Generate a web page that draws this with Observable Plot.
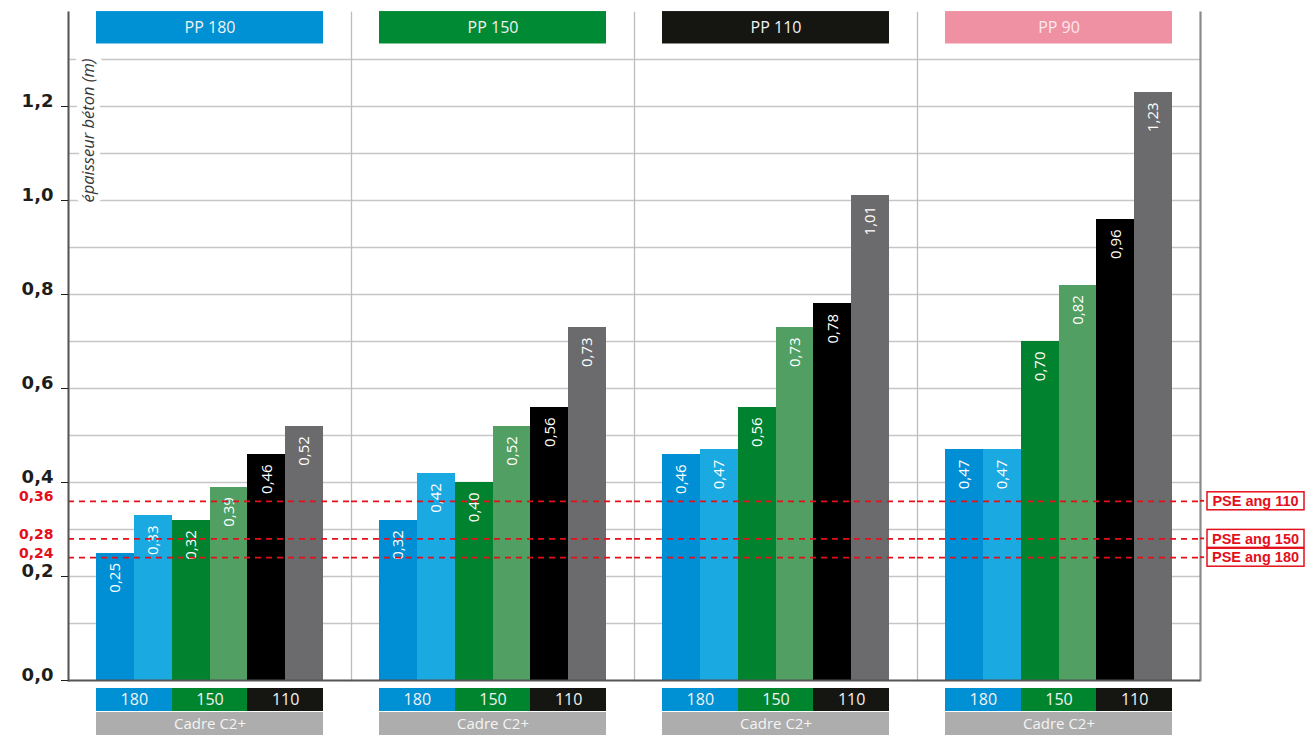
<!DOCTYPE html>
<html><head><meta charset="utf-8">
<script src="https://cdn.jsdelivr.net/npm/d3@7"></script>
<script src="https://cdn.jsdelivr.net/npm/@observablehq/plot@0.6"></script>
<style>html,body{margin:0;padding:0;background:#fff;overflow:hidden}#chart svg{display:block}</style>
</head><body><div id="chart"></div>
<script>
// ---- data ----
const groups = ["PP 180", "PP 150", "PP 110", "PP 90"];
const bars = ["180 a", "180 b", "150 a", "150 b", "110 a", "110 b"];
const pairs = ["180", "150", "110"];
const frameName = "Cadre C2+";
const pp180 = [0.25, 0.33, 0.32, 0.39, 0.46, 0.52];
const pp150 = [0.32, 0.42, 0.40, 0.52, 0.56, 0.73];
const pp110 = [0.46, 0.47, 0.56, 0.73, 0.78, 1.01];
const pp90  = [0.47, 0.47, 0.70, 0.82, 0.96, 1.23];
const yTicks = [0.2, 0.4, 0.6, 0.8, 1.0, 1.2];
const gridValues = [0.1, 0.2, 0.3, 0.4, 0.5, 0.6, 0.7, 0.8, 0.9, 1.0, 1.1, 1.2, 1.3];
const pseValues = [0.36, 0.28, 0.24];
const pseLabels = ["PSE ang 110", "PSE ang 150", "PSE ang 180"];
const yTitle = "épaisseur béton (m)";

// ---- styles ----
const barColors = ["#008fd5", "#1aa9e0", "#00822e", "#519f62", "#000000", "#6b6b6d"];
const headerColors = ["#0090d4", "#008a33", "#151612", "#ef91a3"];
const headerTextColors = ["#f2f2f2", "#f2f2f2", "#f2f2f2", "#fde8ec"];
const pairColors = ["#0090d4", "#00852f", "#151612"];
const red = "#e3101b";

// ---- layout ----
const W = 1307, H = 735, mL = 68, mR = 107, mT = 12, mB = 65;
const yMax = 1.4;
const pxPerUnit = (H - mB - mT) / yMax;
const px = p => -p / pxPerUnit;          // pixel offset below zero, in data units
const facetW = (W - mL - mR) / groups.length;
const padOuter = 0.74;
const step = facetW / (bars.length + 2 * padOuter);
const pad = step * padOuter;
const drop = 10;                          // baseline sits a little below zero

const fmt = (v, d) => v.toFixed(d).replace(".", ",");

const series = [pp180, pp150, pp110, pp90];
const table = groups.flatMap((g, i) => bars.map((b, j) => ({group: g, bar: b, value: series[i][j], fill: barColors[j]})));
const footer = groups.flatMap(g => bars.map((b, j) => ({group: g, bar: b, fill: pairColors[Math.floor(j / 2)]})));
const footerText = groups.flatMap(g => pairs.map((p, k) => ({group: g, bar: bars[2 * k], label: p})));

const axisFont = {label: null, fontSize: 18, fontWeight: "bold", fontFamily: "DejaVu Sans", color: "#1d1d1b", lineAnchor: "bottom"};

const chart = Plot.plot({
  width: W, height: H, marginLeft: mL, marginRight: mR, marginTop: mT, marginBottom: mB,
  style: {fontFamily: "'Open Sans', sans-serif", background: "#fff", overflow: "visible"},
  fx: {domain: groups, padding: 0, round: false, axis: null},
  x: {domain: bars, paddingInner: 0, paddingOuter: padOuter, round: false, axis: null},
  y: {domain: [0, yMax], label: null},
  color: {type: "identity"},
  marks: [
    Plot.ruleY(gridValues, {stroke: "#c6c6c6", strokeWidth: 1.3}),
    Plot.frame({anchor: "left", stroke: "#bdbdbd", strokeWidth: 1.3, insetBottom: -drop}),
    Plot.text([yTitle], {fx: () => groups[0], frameAnchor: "top-left", dx: 14, dy: 46, rotate: -90, textAnchor: "end",
      fontStyle: "italic", fontSize: 16.5, fill: "#383838", stroke: "#fff", strokeWidth: 12}),
    Plot.barY(table, {fx: "group", x: "bar", y: "value", fill: "fill", insetBottom: -drop, shapeRendering: "crispEdges"}),
    Plot.text(table, {fx: "group", x: "bar", y: "value", text: d => fmt(d.value, 2), rotate: -90, textAnchor: "end",
      dy: 10, fill: "#fff", fontSize: 15}),
    Plot.ruleY(pseValues, {stroke: red, strokeWidth: 1.8, strokeDasharray: "6,5"}),
    Plot.rect(groups, {fx: d => d, y1: 1.333, y2: 1.402, insetLeft: pad, insetRight: pad,
      fill: d => headerColors[groups.indexOf(d)]}),
    Plot.text(groups, {fx: d => d, y: 1.3674, text: d => d, fill: d => headerTextColors[groups.indexOf(d)], fontSize: 16}),
    Plot.barY(footer, {fx: "group", x: "bar", y1: px(18), y2: px(41), fill: "fill", shapeRendering: "crispEdges"}),
    Plot.text(footerText, {fx: "group", x: "bar", dx: step / 2, y: px(29.5), text: "label", fill: "#f2f2f2", fontSize: 16}),
    Plot.rect(groups, {fx: d => d, y1: px(42), y2: px(65), insetLeft: pad, insetRight: pad, fill: "#adadad"}),
    Plot.text(groups, {fx: d => d, y: px(53.5), text: () => frameName, fill: "#f4f4f4", fontSize: 15}),
    Plot.frame({anchor: "left", fx: [groups[0]], stroke: "#555", strokeWidth: 2, insetBottom: -drop}),
    Plot.frame({anchor: "right", fx: [groups[groups.length - 1]], stroke: "#8a8a8a", strokeWidth: 2.2, insetBottom: -drop}),
    Plot.ruleY([0], {dy: drop, stroke: "#555", strokeWidth: 2}),
    Plot.axisY(yTicks, {tickSize: 7, tickPadding: 8, tickFormat: d => fmt(d, 1), ...axisFont}),
    Plot.axisY([0], {dy: drop, tickSize: 7, tickPadding: 8, tickFormat: d => fmt(d, 1), ...axisFont}),
    Plot.axisY(pseValues, {label: null, tickSize: 0, tickPadding: 15, tickFormat: d => fmt(d, 2), fontSize: 14, fontWeight: "bold",
      fontFamily: "DejaVu Sans", color: red, lineAnchor: "bottom"})
  ]
});

// PSE labels in the right margin, positioned with Plot's y scale
const svg = d3.select(chart);
const yScale = chart.scale("y");
const gp = svg.append("g");
pseValues.forEach((v, i) => {
  const cy = yScale.apply(v);
  gp.append("line").attr("x1", W - mR).attr("x2", W - mR + 4).attr("y1", cy).attr("y2", cy)
    .attr("stroke", red).attr("stroke-width", 1.8);
  gp.append("rect").attr("x", W - mR + 7).attr("y", cy - 9).attr("width", 97).attr("height", 18)
    .attr("fill", "#fff").attr("stroke", red).attr("stroke-width", 1.5);
  gp.append("text").attr("x", W - mR + 7 + 48.5).attr("y", cy).attr("dy", "0.36em")
    .attr("text-anchor", "middle").attr("fill", red)
    .style("font-family", "'Liberation Sans', Arial, sans-serif").style("font-weight", "bold").style("font-size", "14.5px")
    .text(pseLabels[i]);
});

document.getElementById("chart").appendChild(chart);
</script>
</body></html>
